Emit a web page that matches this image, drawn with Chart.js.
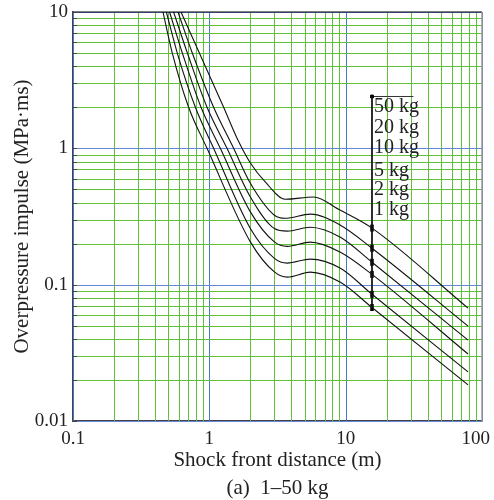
<!DOCTYPE html>
<html>
<head>
<meta charset="utf-8">
<script src="https://cdn.jsdelivr.net/npm/chart.js@4.4.1/dist/chart.umd.min.js"></script>
<style>
    html, body { margin: 0; padding: 0; background: #fff; }
</style>
</head>
<body>
<canvas id="chart" width="494" height="500"></canvas>
<script>
(function () {
    "use strict";

    // Values (distance in m, impulse in MPa·ms)
    const charges = ["1 kg", "2 kg", "5 kg", "10 kg", "20 kg", "50 kg"];

    const dist1 = [0.457, 0.535, 0.705, 0.962, 2, 3, 3.73, 5.5, 9.15, 15.6, 79];
    const imp1 = [10, 5, 2, 1, 0.206, 0.124, 0.1135, 0.1235, 0.104, 0.068, 0.0184];

    const dist2 = [0.484, 0.582, 0.79, 1.075, 2, 3, 3.73, 5.5, 9.15, 15.6, 79];
    const imp2 = [10, 5, 2, 1, 0.258, 0.156, 0.144, 0.154, 0.132, 0.085, 0.0229];

    const dist5 = [0.511, 0.634, 0.869, 1.204, 2, 3, 3.73, 5.5, 9.15, 15.6, 79];
    const imp5 = [10, 5, 2, 1, 0.342, 0.206, 0.191, 0.205, 0.173, 0.119, 0.031];

    const dist10 = [0.547, 0.69, 0.962, 1.348, 2, 3, 3.73, 5.5, 9.15, 15.6, 79];
    const imp10 = [10, 5, 2, 1, 0.44, 0.258, 0.247, 0.264, 0.223, 0.146, 0.0392];

    const dist20 = [0.589, 0.75, 1.075, 1.507, 2, 3, 3.6, 5.5, 9.15, 15.6, 79];
    const imp20 = [10, 5, 2, 1, 0.554, 0.323, 0.307, 0.329, 0.273, 0.185, 0.0497];

    const dist50 = [0.62, 0.845, 1.273, 1.6, 2, 2.6, 3.6, 5.8, 9.15, 15.6, 79];
    const imp50 = [10, 5, 2, 1.18, 0.78, 0.56, 0.423, 0.44, 0.351, 0.26, 0.0673];

    // Marker column and the label bracket
    const markerX = 15.6;
    const markerY = [0.068, 0.085, 0.119, 0.146, 0.185, 0.26];
    const bracketTop = 2.4;
    const bracketEndX = 31.4;
    const labelAt = [0.323, 0.453, 0.624, 0.919, 1.288, 1.835];

    // Axis ticks
    const xTicks = [0.1, 0.2, 0.3, 0.4, 0.5, 0.6, 0.7, 0.8, 0.9,
        1, 2, 3, 4, 5, 6, 7, 8, 9,
        10, 20, 30, 40, 50, 60, 70, 80, 90, 100];
    const yTicks = [0.01, 0.02, 0.03, 0.04, 0.05, 0.06, 0.07, 0.08, 0.09,
        0.1, 0.2, 0.3, 0.4, 0.5, 0.6, 0.7, 0.8, 0.9,
        1, 2, 3, 4, 5, 6, 7, 8, 9, 10];
    const xLabelled = [0.1, 1, 10, 100];
    const yLabelled = [0.01, 0.1, 1, 10];

    const serif = "'Liberation Serif', 'DejaVu Serif', serif";
    const green = "rgb(96, 192, 56)";
    const blueX = "rgb(74, 118, 204)";
    const blueY = "rgb(100, 135, 215)";

    const isDecade = (v) => {
        const l = Math.log10(v);
        return Math.abs(l - Math.round(l)) < 1e-9;
    };
    const hasValue = (list, v) => list.some((t) => Math.abs(t - v) < 1e-9);
    const toPoints = (xs, ys) => xs.map((x, i) => ({ x: x, y: ys[i] }));

    // plot box taken from the scales themselves
    const plotBox = (chart) => {
        const xs = chart.scales.x;
        const ys = chart.scales.y;
        return {
            left: xs.getPixelForValue(xs.min),
            right: xs.getPixelForValue(xs.max),
            top: ys.getPixelForValue(ys.max),
            bottom: ys.getPixelForValue(ys.min),
        };
    };

    const curves = [
        [dist1, imp1], [dist2, imp2], [dist5, imp5],
        [dist10, imp10], [dist20, imp20], [dist50, imp50],
    ];

    const datasets = curves.map((c, i) => ({
        label: charges[i],
        data: toPoints(c[0], c[1]),
        borderColor: "#111",
        borderWidth: 1.1,
        pointRadius: 0,
        cubicInterpolationMode: "monotone",
        fill: false,
    }));

    // vertical leader line through the markers
    datasets.push({
        label: "leader",
        data: [{ x: markerX, y: bracketTop }, { x: markerX, y: markerY[0] }],
        borderColor: "#111",
        borderWidth: 1,
        pointRadius: 0,
    });
    // overline above the labels
    datasets.push({
        label: "overline",
        data: [{ x: markerX, y: bracketTop }, { x: bracketEndX, y: bracketTop }],
        borderColor: "#333",
        borderWidth: 1,
        pointRadius: [2, 0],
        pointStyle: "rect",
        pointBackgroundColor: "#000",
        pointBorderColor: "#000",
    });
    // markers on the curves
    datasets.push({
        label: "markers",
        data: markerY.map((y) => ({ x: markerX, y: y })),
        showLine: false,
        pointStyle: "line",
        rotation: 90,
        pointRadius: 3.5,
        pointBorderWidth: 3.5,
        pointBorderColor: "#000",
    });

    // coloured log grid, drawn under the curves
    const gridPlugin = {
        id: "logGrid",
        beforeDatasetsDraw(chart) {
            const ctx = chart.ctx;
            const a = plotBox(chart);
            const xs = chart.scales.x;
            const ys = chart.scales.y;
            ctx.save();
            ctx.lineWidth = 1;
            xTicks.forEach((v) => {
                const px = Math.round(xs.getPixelForValue(v)) + 0.5;
                ctx.strokeStyle = isDecade(v) ? blueX : green;
                ctx.beginPath();
                ctx.moveTo(px, a.top);
                ctx.lineTo(px, a.bottom);
                ctx.stroke();
            });
            yTicks.forEach((v) => {
                const py = Math.round(ys.getPixelForValue(v)) + 0.5;
                ctx.strokeStyle = isDecade(v) ? blueY : green;
                ctx.beginPath();
                ctx.moveTo(a.left, py);
                ctx.lineTo(a.right, py);
                ctx.stroke();
            });
            ctx.restore();
        },
    };

    const framePlugin = {
        id: "frame",
        afterDraw(chart) {
            const ctx = chart.ctx;
            const a = plotBox(chart);
            const xs = chart.scales.x;
            const ys = chart.scales.y;
            ctx.save();

            // top and right edges
            ctx.lineWidth = 1.2;
            ctx.strokeStyle = "#000";
            ctx.beginPath();
            ctx.moveTo(a.left, a.top);
            ctx.lineTo(a.right, a.top);
            ctx.stroke();
            ctx.strokeStyle = "#999";
            ctx.lineWidth = 1.5;
            ctx.beginPath();
            ctx.moveTo(a.right, a.top);
            ctx.lineTo(a.right, a.bottom);
            ctx.stroke();

            // short inner ticks on the left axis
            ctx.strokeStyle = "#444";
            ctx.lineWidth = 1;
            yTicks.forEach((v) => {
                const py = Math.round(ys.getPixelForValue(v)) + 0.5;
                ctx.beginPath();
                ctx.moveTo(a.left, py);
                ctx.lineTo(a.left + 4, py);
                ctx.stroke();
            });

            // x tick labels, the last one kept inside the canvas
            ctx.fillStyle = "#222";
            ctx.font = "19px " + serif;
            ctx.textAlign = "center";
            ctx.textBaseline = "middle";
            xLabelled.forEach((v) => {
                const text = String(v);
                const half = ctx.measureText(text).width / 2;
                const px = Math.min(xs.getPixelForValue(v), chart.width - 4 - half);
                ctx.fillText(text, px, a.bottom + 18);
            });

            // series labels next to the leader line
            ctx.font = "20px " + serif;
            ctx.textAlign = "left";
            ctx.textBaseline = "alphabetic";
            const lx = xs.getPixelForValue(markerX) + 2;
            charges.forEach((name, i) => {
                ctx.fillText(name, lx, ys.getPixelForValue(labelAt[i]));
            });

            // caption
            ctx.font = "21px " + serif;
            ctx.textAlign = "center";
            ctx.fillText("(a)  1\u201350 kg", (a.left + a.right) / 2, 494);
            ctx.restore();
        },
    };

    new Chart(document.getElementById("chart"), {
        type: "line",
        data: { datasets: datasets },
        options: {
            responsive: false,
            animation: false,
            layout: { padding: { top: 12, right: 12, left: 0, bottom: 0 } },
            plugins: {
                legend: { display: false },
                tooltip: { enabled: false },
            },
            scales: {
                x: {
                    type: "logarithmic",
                    min: 0.1,
                    max: 100,
                    afterBuildTicks: (s) => {
                        s.ticks = xTicks.map((v) => ({ value: v }));
                    },
                    afterFit: (s) => {
                        s.height = 79;
                        s.paddingLeft = 0;
                        s.paddingRight = 0;
                    },
                    ticks: { display: false },
                    grid: { display: false, drawTicks: false },
                    border: { display: true, color: "#444", width: 1.5 },
                    title: {
                        display: true,
                        text: "Shock front distance (m)",
                        color: "#222",
                        font: { family: serif, size: 21 },
                        padding: { top: 0, bottom: 27 },
                    },
                },
                y: {
                    type: "logarithmic",
                    min: 0.01,
                    max: 10,
                    afterBuildTicks: (s) => {
                        s.ticks = yTicks.map((v) => ({ value: v }));
                    },
                    afterFit: (s) => {
                        s.width = 73;
                        s.paddingTop = 0;
                        s.paddingBottom = 0;
                    },
                    ticks: {
                        autoSkip: false,
                        padding: 5,
                        color: "#222",
                        font: { family: serif, size: 19 },
                        callback: (v) => (hasValue(yLabelled, v) ? String(v) : ""),
                    },
                    grid: { display: false, drawTicks: false },
                    border: { display: true, color: "#444", width: 1.5 },
                    title: {
                        display: true,
                        text: "Overpressure impulse (MPa\u00b7ms)",
                        color: "#222",
                        font: { family: serif, size: 21 },
                        padding: { top: 10, bottom: 0 },
                    },
                },
            },
        },
        plugins: [gridPlugin, framePlugin],
    });
})();
</script>
</body>
</html>
